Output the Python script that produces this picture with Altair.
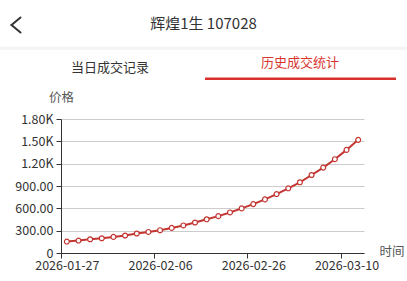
import altair as alt
import pandas as pd

# ---- data ----
dates = [
    "2026-01-27", "2026-01-28", "2026-01-29", "2026-01-30", "2026-01-31",
    "2026-02-01", "2026-02-02", "2026-02-04", "2026-02-06", "2026-02-09",
    "2026-02-11", "2026-02-14", "2026-02-16", "2026-02-19", "2026-02-21",
    "2026-02-24", "2026-02-26", "2026-02-27", "2026-03-01", "2026-03-02",
    "2026-03-04", "2026-03-05", "2026-03-07", "2026-03-08", "2026-03-10",
    "2026-03-11",
]
prices = [154, 167, 185, 198, 216, 235, 262, 283, 306, 337, 370, 410, 453,
          495, 545, 599, 657, 720, 792, 869, 950, 1048, 1147, 1260, 1385, 1520]
tick_dates = [dates[0], dates[8], dates[16], dates[24]]
y_ticks = [0, 300, 600, 900, 1200, 1500, 1800]

header_title = "辉煌1生 107028"
tab_left = "当日成交记录"
tab_right = "历史成交统计"
y_title = "价格"
x_title = "时间"

df = pd.DataFrame({"date": dates, "price": prices})

W, H = 303, 134
PL, PT = 61, 119
step = W / len(dates)
FONT = "Noto Sans CJK SC"
RED = "#c23531"

x_enc = alt.X(
    "date:O",
    sort=None,
    scale=alt.Scale(type="point", padding=0.5),
    axis=alt.Axis(
        values=tick_dates,
        labelAngle=0,
        tickOffset=-step / 2,
        labelOffset=step / 2,
        domainColor="#333",
        tickColor="#333",
        tickSize=5,
        labelFontSize=12.5,
        labelColor="#333",
        labelFont=FONT,
        labelPadding=1,
        grid=False,
        title=x_title,
        titleFont=FONT,
        titleFontSize=12.5,
        titleFontWeight="normal",
        titleColor="#555",
        titleAlign="left",
        titleBaseline="middle",
        titleX=W + 15,
        titleY=-2,
        labelOverlap=False,
        labelFlush=False,
    ),
)
y_enc = alt.Y(
    "price:Q",
    scale=alt.Scale(domain=[0, 1800], nice=False, zero=True),
    axis=alt.Axis(
        values=y_ticks,
        tickCount=7,
        labelExpr="datum.value >= 1000 ? format(datum.value/1000, '.2f') + 'K' : (datum.value == 0 ? '0' : format(datum.value, '.2f'))",
        grid=True,
        gridColor="#cccccc",
        domainColor="#333",
        tickColor="#333",
        tickSize=5,
        labelFontSize=12.5,
        labelColor="#333",
        labelFont=FONT,
        labelPadding=3,
        labelOverlap=False,
        labelFlush=False,
        title=y_title,
        titleFont=FONT,
        titleFontSize=12.5,
        titleFontWeight="normal",
        titleColor="#555",
        titleAngle=0,
        titleAlign="center",
        titleBaseline="middle",
        titleX=0,
        titleY=-22,
    ),
)

base = alt.Chart(df).encode(x=x_enc, y=y_enc)
line = base.mark_line(color=RED, strokeWidth=2)
pts = base.mark_point(
    filled=True, fill="white", stroke=RED, strokeWidth=1.2, size=24, opacity=1
)

one = pd.DataFrame({"k": [0]})
deco = alt.Chart(one)

sep = deco.mark_rect(color="#f5f5f5").encode(
    x=alt.value(-PL), x2=alt.value(407 - PL), y=alt.value(46.5 - PT), y2=alt.value(50 - PT)
)
header = deco.mark_text(
    text=header_title, font=FONT, fontSize=15, color="#333", align="center", baseline="middle"
).encode(x=alt.value(203.5 - PL), y=alt.value(23.5 - PT))
tab1 = deco.mark_text(
    text=tab_left, font=FONT, fontSize=13, color="#333", align="center", baseline="middle"
).encode(x=alt.value(110 - PL), y=alt.value(68 - PT))
tab2 = deco.mark_text(
    text=tab_right, font=FONT, fontSize=13, color="#d9352f", align="center", baseline="middle"
).encode(x=alt.value(300 - PL), y=alt.value(62.5 - PT))
underline = deco.mark_rect(color="#d9302c").encode(
    x=alt.value(205 - PL), x2=alt.value(396 - PL), y=alt.value(77.5 - PT), y2=alt.value(80 - PT)
)
chev1 = deco.mark_rule(color="#333", strokeWidth=2, strokeCap="round").encode(
    x=alt.value(20.5 - PL), y=alt.value(17.5 - PT), x2=alt.value(11.5 - PL), y2=alt.value(25 - PT)
)
chev2 = deco.mark_rule(color="#333", strokeWidth=2, strokeCap="round").encode(
    x=alt.value(11.5 - PL), y=alt.value(25 - PT), x2=alt.value(20.5 - PL), y2=alt.value(32.5 - PT)
)

chart = (
    alt.layer(line, pts, sep, header, tab1, tab2, underline, chev1, chev2)
    .properties(
        width=W,
        height=H,
        autosize=alt.AutoSizeParams(type="none"),
        padding={"left": PL, "top": PT, "right": 407 - PL - W, "bottom": 281 - PT - H},
        background="white",
    )
    .configure_view(stroke=None)
)

chart.save("out.html", embed_options={"renderer": "svg", "actions": False})
